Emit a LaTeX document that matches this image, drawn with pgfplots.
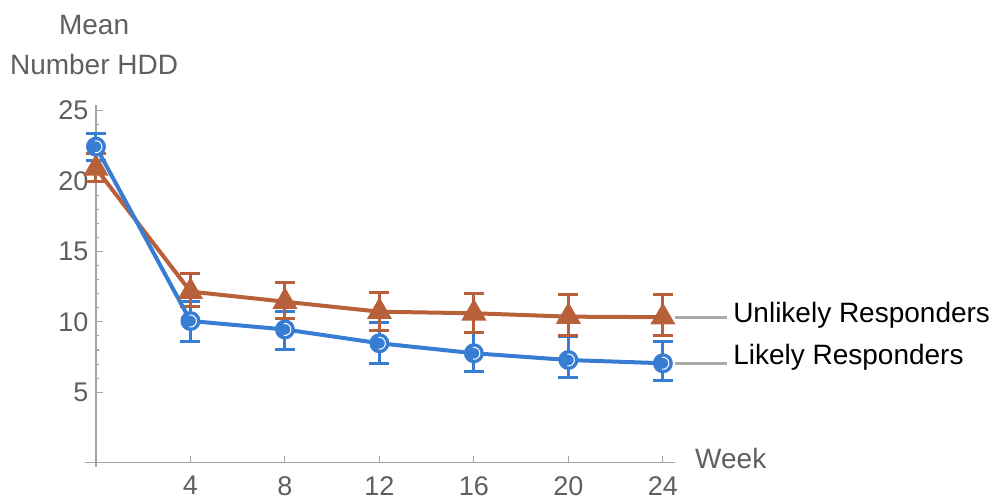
\documentclass[border=0pt]{standalone}
\usepackage{fontspec}
\setmainfont{Liberation Sans}
\usepackage{pgfplots}
\usepackage{pgfplotstable}
\pgfplotsset{compat=1.18}
\definecolor{mblue}{RGB}{56,125,212}
\definecolor{morange}{RGB}{183,96,58}
\definecolor{axgray}{RGB}{165,165,165}
\definecolor{txtgray}{RGB}{95,95,95}
\definecolor{lngray}{RGB}{170,170,170}

\pgfdeclareplotmark{mcirc}{%
  \pgfpathcircle{\pgfpointorigin}{\pgfplotmarksize}%
  \pgfusepathqfill
  \pgfsetstrokecolor{white}%
  \pgfsetlinewidth{1pt}%
  \pgfpathmoveto{\pgfpointpolar{-100}{0.6\pgfplotmarksize}}%
  \pgfpatharc{-100}{100}{0.6\pgfplotmarksize}%
  \pgfusepathqstroke
}

\pgfplotstableread{
x y ep em
0 22.44 0.95 1.00
4 10.06 1.40 1.42
8 9.46 1.26 1.41
12 8.48 1.48 1.42
16 7.77 1.45 1.31
20 7.29 1.66 1.22
24 7.06 1.58 1.24
}\likely

\pgfplotstableread{
x y ep em
0 20.90 1.07 0.94
4 12.15 1.30 1.07
8 11.43 1.35 1.18
12 10.72 1.35 1.30
16 10.61 1.42 1.38
20 10.37 1.54 1.37
24 10.33 1.58 1.31
}\unlikely

\begin{document}
\begin{tikzpicture}
\path[use as bounding box] (-85.1pt,-32.4pt) rectangle (909.9pt,466.6pt);
\begin{axis}[
  at={(0pt,0pt)}, anchor=south west,
  scale only axis, width=589.6pt, height=361.6pt,
  xmin=-0.46, xmax=24.5, ymin=-0.28, ymax=25.4,
  axis lines=middle,
  axis line style={axgray, line width=1.3pt, -},
  every inner x axis line/.append style={-},
  every inner y axis line/.append style={-},
  xtick={4,8,12,16,20,24}, ytick={5,10,15,20,25},
  minor y tick num=4,
  tick align=inside,
  major tick length=7pt, minor tick length=3.5pt,
  tick style={axgray, line width=1.1pt},
  ticklabel style={font=\fontsize{27}{30}\selectfont, text=txtgray},
  xticklabel style={yshift=-10pt},
  yticklabel style={xshift=-4pt},
  /pgf/number format/assume math mode=true,
  clip=false,
]
% error bars
\addplot[draw=none, mark=none, forget plot,
  error bars/.cd, y dir=both, y explicit,
  error bar style={draw=mblue, line width=3pt},
  error mark options={rotate=90, draw=mblue, line width=3pt, mark size=10pt}]
  table[x=x, y=y, y error plus=ep, y error minus=em] {\likely};
\addplot[draw=none, mark=none, forget plot,
  error bars/.cd, y dir=both, y explicit,
  error bar style={draw=morange, line width=3pt},
  error mark options={rotate=90, draw=morange, line width=3pt, mark size=10pt}]
  table[x=x, y=y, y error plus=ep, y error minus=em] {\unlikely};
% lines + markers
\addplot[morange, line width=4pt, mark=triangle*, mark size=10.5pt,
  mark options={fill=morange, draw=none}]
  table[x=x, y=y] {\unlikely};
\addplot[mblue, line width=4pt, mark=mcirc, mark size=10pt,
  mark options={fill=mblue}]
  table[x=x, y=y] {\likely};
% connectors
\addplot[lngray, line width=3pt, mark=none] coordinates {(24.5,10.33) (26.7,10.33)};
\addplot[lngray, line width=3pt, mark=none] coordinates {(24.5,7.03) (26.7,7.03)};
% labels
\node[anchor=base west, inner sep=0pt, font=\fontsize{28}{32}\selectfont, text=black]
  at (axis cs:26.97,9.92) {Unlikely Responders};
\node[anchor=base west, inner sep=0pt, font=\fontsize{28}{32}\selectfont, text=black]
  at (axis cs:26.97,6.94) {Likely Responders};
\node[anchor=base west, inner sep=0pt, font=\fontsize{28}{32}\selectfont, text=txtgray]
  at (axis cs:25.36,-0.45) {Week};
\node[anchor=base, inner sep=0pt, font=\fontsize{28}{32}\selectfont, text=txtgray]
  at (axis cs:-0.08,30.38) {Mean};
\node[anchor=base, inner sep=0pt, font=\fontsize{28}{32}\selectfont, text=txtgray]
  at (axis cs:-0.08,27.6) {Number HDD};
\end{axis}
\end{tikzpicture}
\end{document}
